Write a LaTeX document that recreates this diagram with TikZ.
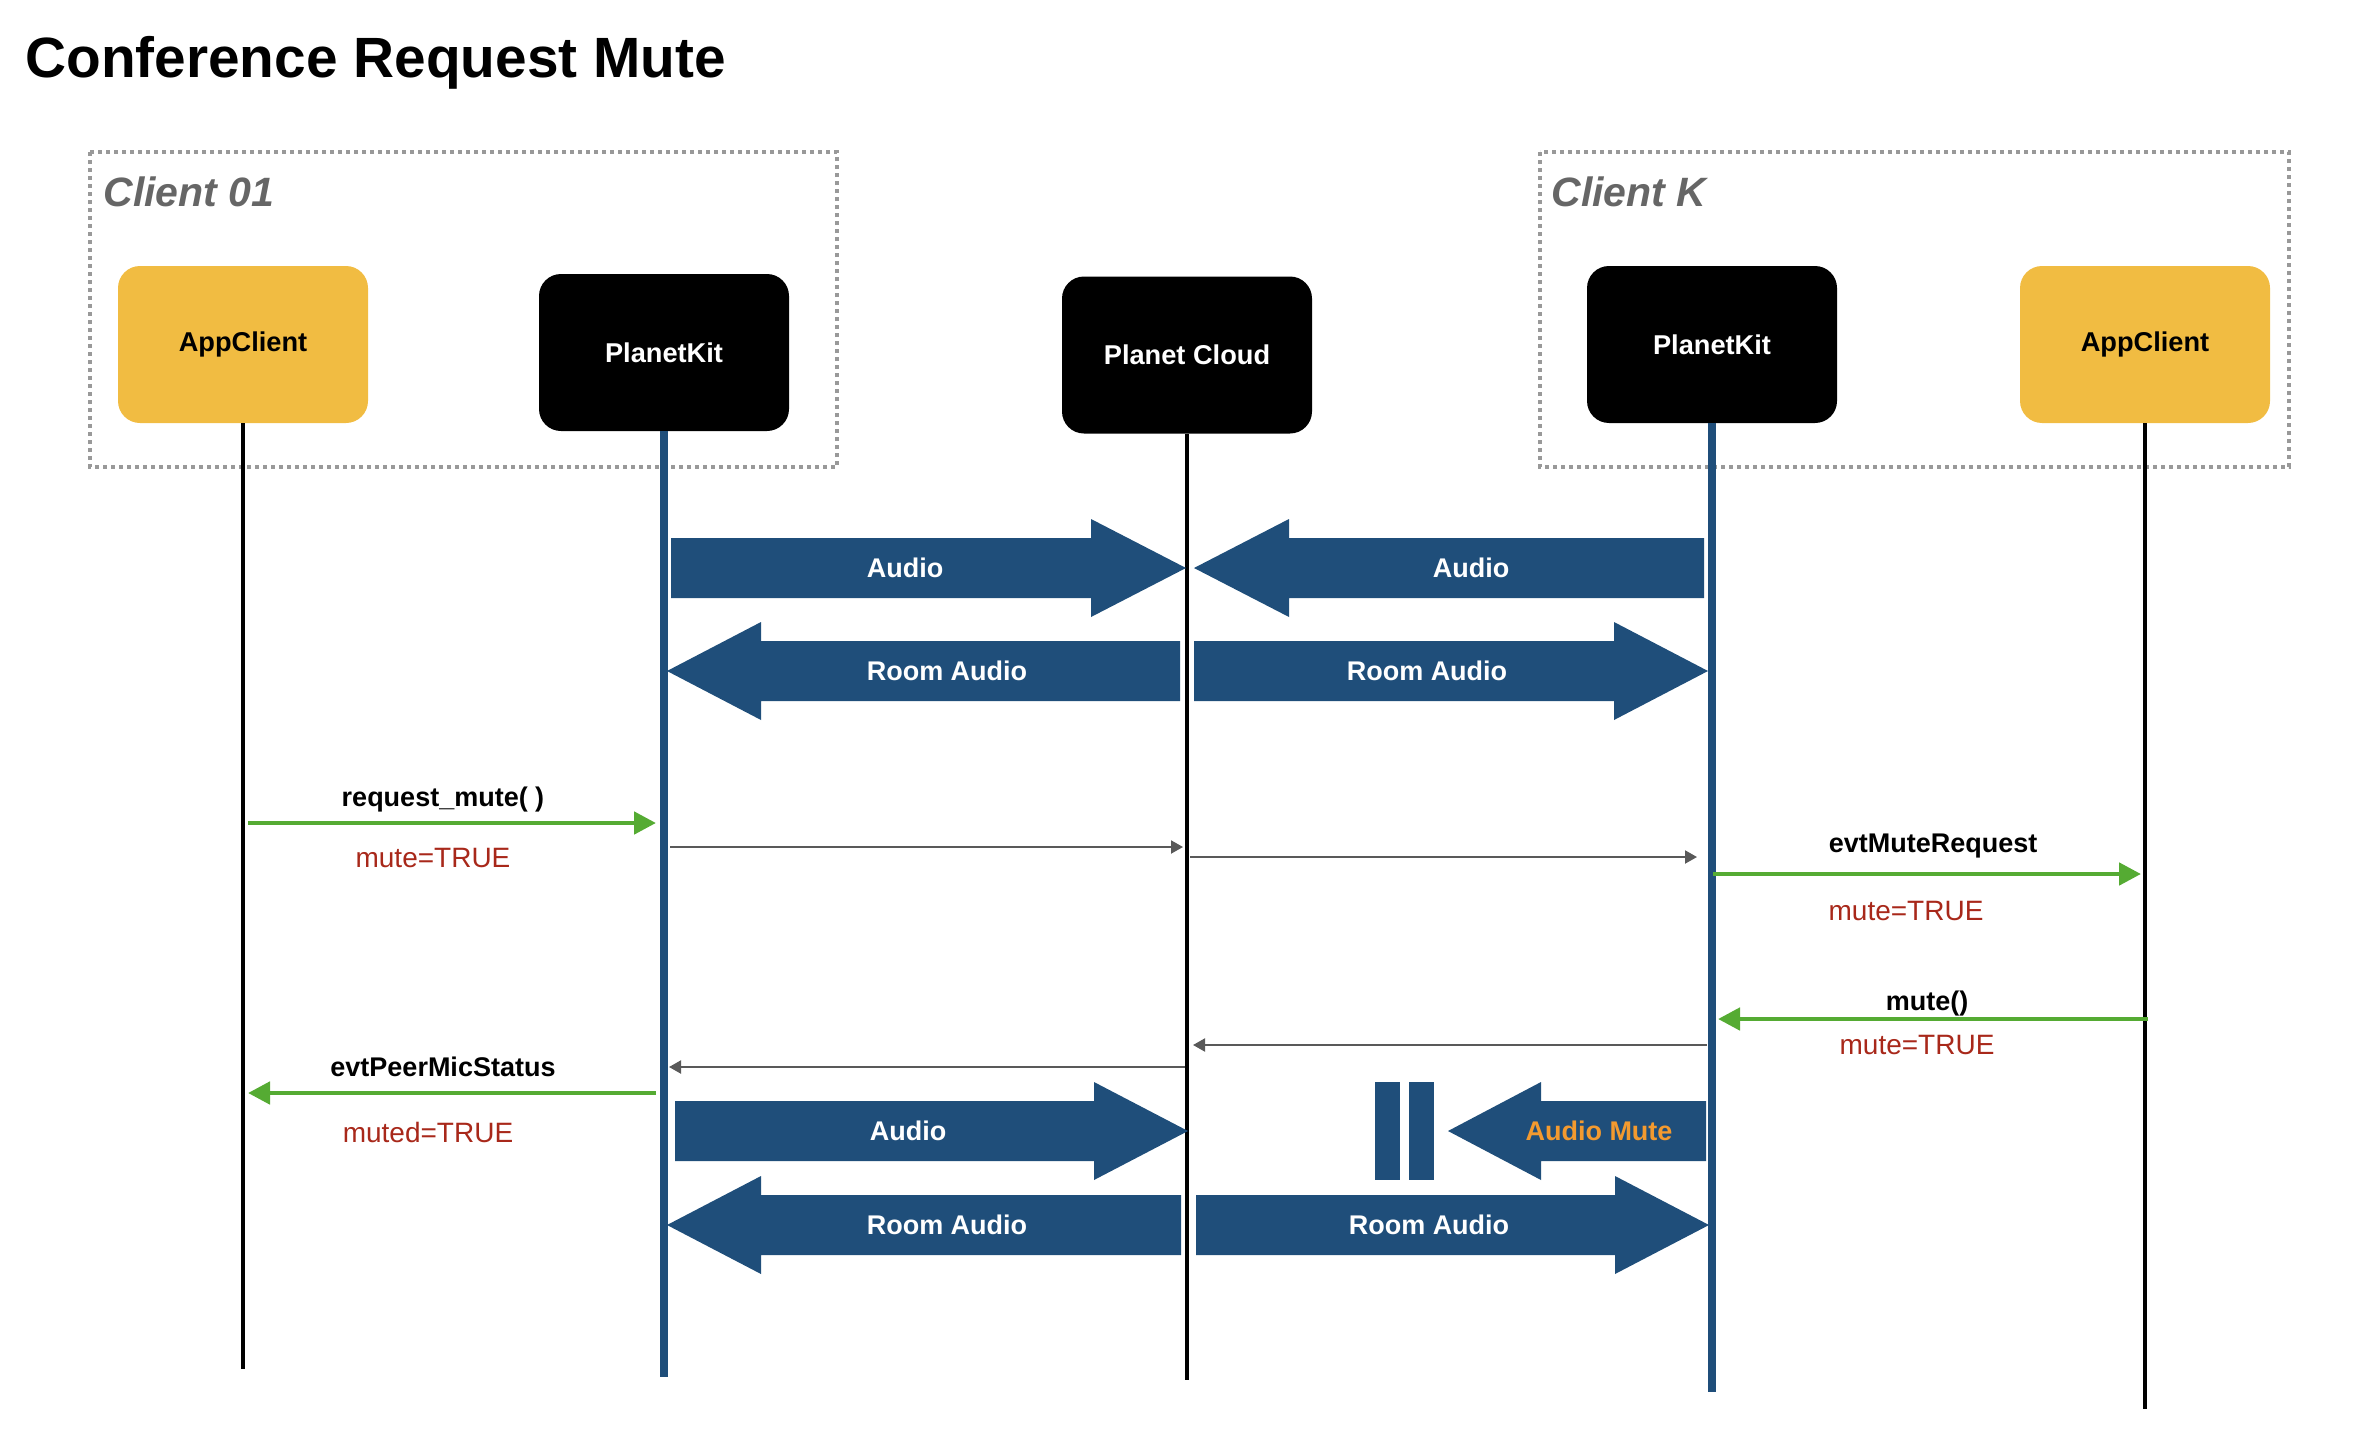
\documentclass[tikz,border=0pt]{standalone}
\usepackage{fontspec}
\setmainfont{Liberation Sans}
\usetikzlibrary{arrows.meta}

\definecolor{appyellow}{HTML}{F1BC42}
\definecolor{kitblue}{HTML}{1F4E7A}
\definecolor{msggreen}{HTML}{55AB33}
\definecolor{msggray}{HTML}{595959}
\definecolor{valred}{HTML}{A8281A}
\definecolor{muteorange}{HTML}{F39A2F}
\definecolor{boxgray}{HTML}{999999}
\definecolor{labelgray}{HTML}{666666}

\tikzset{
  actor/.style={rounded corners=11pt,minimum width=125pt,minimum height=78.5pt,font=\fontsize{13.6pt}{16pt}\selectfont\bfseries},
  app/.style={actor,fill=appyellow,text=black},
  kit/.style={actor,fill=black,text=white},
  groupbox/.style={draw=boxgray,line width=2pt,dash pattern=on 2pt off 2pt},
  grouplabel/.style={anchor=base west,inner sep=0pt,text=labelgray,font=\fontsize{20.5pt}{24pt}\selectfont\bfseries\itshape},
  lifeblack/.style={draw=black,line width=2.3pt},
  lifeblue/.style={draw=kitblue,line width=4.2pt},
  media/.style={text=white,font=\fontsize{13.5pt}{16pt}\selectfont\bfseries},
  call/.style={draw=msggreen,line width=2.4pt,-{Triangle[length=11pt,width=11pt]}},
  relay/.style={draw=msggray,line width=1pt,-{Triangle[length=6pt,width=6.5pt]}},
  callname/.style={font=\fontsize{13.5pt}{16pt}\selectfont\bfseries},
  callval/.style={text=valred,font=\fontsize{14pt}{16pt}\selectfont}
}

\begin{document}
\begin{tikzpicture}[x=0.5pt,y=-0.5pt]
        \useasboundingbox (0,0) rectangle (2354,1450);

        \node (title) at (25,78) [anchor=base west,inner sep=0pt,font=\fontsize{28.4pt}{34pt}\selectfont\bfseries] {Conference Request Mute};

        % client groups
        \draw[groupbox] (90,152) rectangle (837,467);
        \draw[groupbox] (1540,152) rectangle (2289,467);
        \node (grp01) at (103,206) [grouplabel] {Client 01};
        \node (grpK) at (1551,206) [grouplabel] {Client K};

        \node (appL) at (243,344.5) [app] {AppClient};
        \node (kitL) at (664,352.5) [kit] {PlanetKit};
        \node (cloud) at (1187,355) [kit] {Planet Cloud};
        \node (kitR) at (1712,344.5) [kit] {PlanetKit};
        \node (appR) at (2145,344.5) [app] {AppClient};

        % lifelines
        \coordinate (appLend) at (243,1369);
        \coordinate (kitLend) at (664,1377);
        \coordinate (cloudend) at (1187,1380);
        \coordinate (kitRend) at (1712,1392);
        \coordinate (appRend) at (2145,1409);
        \draw[lifeblack] (appL.south) -- (appLend);
        \draw[lifeblue] (kitL.south) -- (kitLend);
        \draw[lifeblack] (cloud.south) -- (cloudend);
        \draw[lifeblue] (kitR.south) -- (kitRend);
        \draw[lifeblack] (appR.south) -- (appRend);

        % media streams: tail / head base / tip / y
        \foreach \ta/\hb/\tp/\yc in {671/1091/1186/568, 1704/1289/1194/568,
                                     1180/761/667/671, 1194/1614/1708/671,
                                     675/1094/1188/1131, 1706/1541/1448/1131,
                                     1181/761/667/1225, 1196/1615/1709/1225}
          \fill[kitblue] (\ta,\yc-30) -- (\hb,\yc-30) -- (\hb,\yc-49) -- (\tp,\yc)
                         -- (\hb,\yc+49) -- (\hb,\yc+30) -- (\ta,\yc+30) -- cycle;
        \fill[kitblue] (1375,1082) rectangle (1400,1180);
        \fill[kitblue] (1409,1082) rectangle (1434,1180);

        \node (audioL) at (905,568) [media] {Audio};
        \node (audioR) at (1471,568) [media] {Audio};
        \node (roomL) at (947,671) [media] {Room Audio};
        \node (roomR) at (1427,671) [media] {Room Audio};
        \node (audioL2) at (908,1131) [media] {Audio};
        \node (audioMute) at (1599,1131) [media,text=muteorange] {Audio Mute};
        \node (roomL2) at (947,1225) [media] {Room Audio};
        \node (roomR2) at (1429,1225) [media] {Room Audio};

        % request
        \coordinate (reqS) at (248,823);
        \coordinate (reqE) at (656,823);
        \draw[call] (reqS) -- (reqE);
        \node (reqName) at (443,800) [callname] {request\_mute( )};
        \node (reqVal) at (433,858) [callval] {mute=TRUE};

        \coordinate (fwd1S) at (670,847);
        \coordinate (fwd1E) at (1183,847);
        \coordinate (fwd2S) at (1190,857);
        \coordinate (fwd2E) at (1697,857);
        \draw[relay] (fwd1S) -- (fwd1E);
        \draw[relay] (fwd2S) -- (fwd2E);

        \coordinate (evtS) at (1713,874);
        \coordinate (evtE) at (2141,874);
        \draw[call] (evtS) -- (evtE);
        \node (evtName) at (1933,846) [callname] {evtMuteRequest};
        \node (evtVal) at (1906,911) [callval] {mute=TRUE};

        % mute
        \coordinate (muteS) at (2148,1019);
        \coordinate (muteE) at (1718,1019);
        \draw[call] (muteS) -- (muteE);
        \node (muteName) at (1927,1004) [callname] {mute()};
        \node (muteVal) at (1917,1045) [callval] {mute=TRUE};

        \coordinate (back1S) at (1707,1045);
        \coordinate (back1E) at (1193,1045);
        \coordinate (back2S) at (1185,1067);
        \coordinate (back2E) at (669,1067);
        \draw[relay] (back1S) -- (back1E);
        \draw[relay] (back2S) -- (back2E);

        \coordinate (peerS) at (656,1093);
        \coordinate (peerE) at (248,1093);
        \draw[call] (peerS) -- (peerE);
        \node (peerName) at (443,1067) [callname] {evtPeerMicStatus};
        \node (peerVal) at (428,1132) [callval] {muted=TRUE};
\end{tikzpicture}
\end{document}
